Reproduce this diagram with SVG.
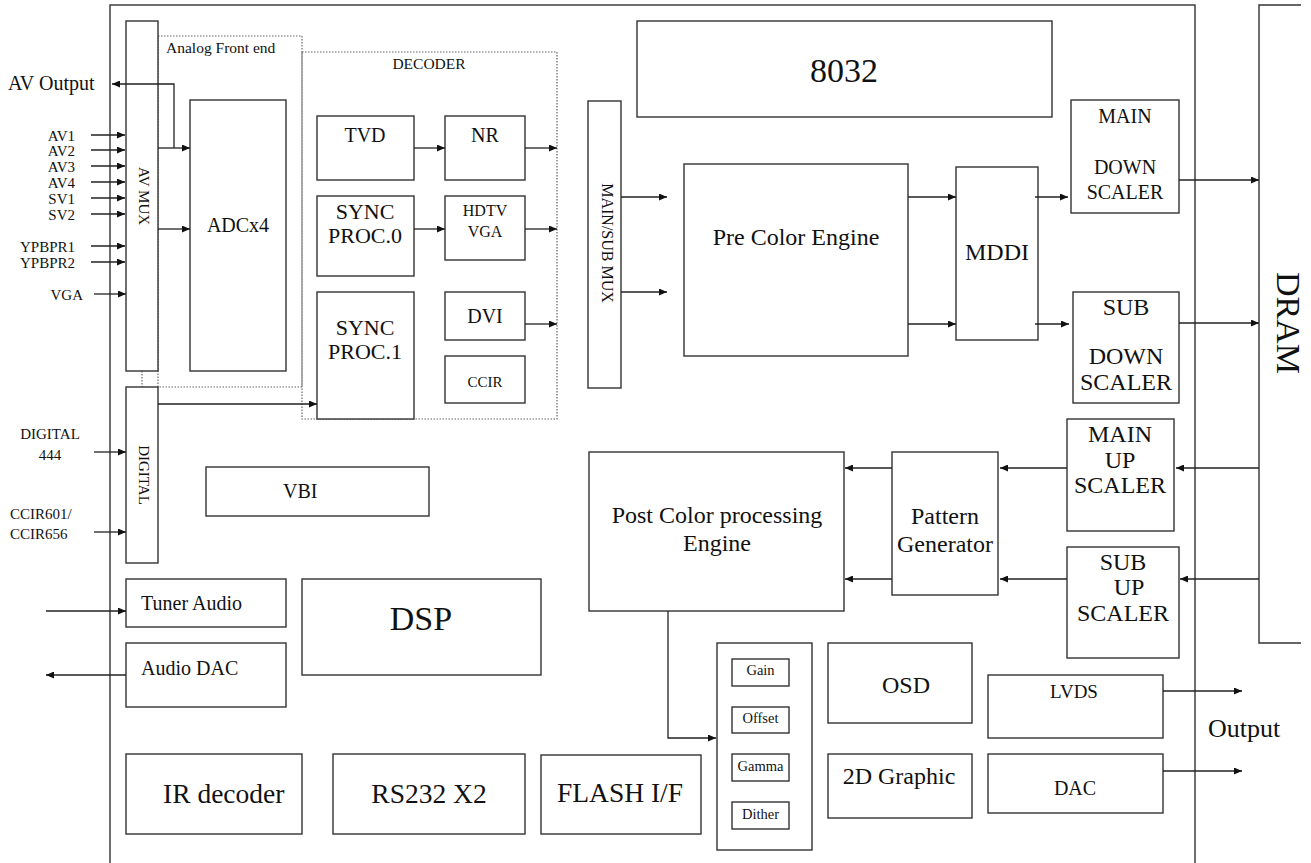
<svg xmlns="http://www.w3.org/2000/svg" width="1311" height="863" viewBox="0 0 1311 863">
<style>
.b{fill:#fff;stroke:#333;stroke-width:1.4}
.o{fill:none;stroke:#333;stroke-width:1.4}
.d{fill:none;stroke:#666;stroke-width:1.2;stroke-dasharray:1.5 1.5}
.c{fill:none;stroke:#222;stroke-width:1.3}
.a{marker-end:url(#ah)}
text{font-family:"Liberation Serif","Times New Roman",serif;fill:#111}
.m{text-anchor:middle}
.e{text-anchor:end}
</style>
<defs>
<marker id="ah" markerWidth="9" markerHeight="7" refX="8" refY="3.5" orient="auto" markerUnits="userSpaceOnUse">
<path d="M0,0 L8,3.5 L0,7 z" fill="#111"/>
</marker>
</defs>
<rect width="1311" height="863" fill="#fff"/>

<g id="chip"><rect class="o" x="110" y="5" width="1085" height="880"/></g>
<g id="dram"><path class="o" d="M1301,5 H1259 V643 H1301"/><text transform="translate(1277,323) rotate(90)" class="m" font-size="34">DRAM</text></g>

<g id="afe"><rect class="d" x="158" y="36" width="144" height="351"/><path class="d" d="M142,371 V387"/><text x="166" y="53" font-size="15.5">Analog Front end</text></g>
<g id="decoder"><rect class="d" x="302" y="52" width="255" height="367"/><text x="429" y="69" class="m" font-size="15.5">DECODER</text></g>

<g id="labels">
<text x="8" y="90" font-size="20">AV Output</text>
<text x="75" y="141" class="e" font-size="15">AV1</text>
<text x="75" y="156" class="e" font-size="15">AV2</text>
<text x="75" y="172" class="e" font-size="15">AV3</text>
<text x="75" y="188" class="e" font-size="15">AV4</text>
<text x="75" y="204" class="e" font-size="15">SV1</text>
<text x="75" y="220" class="e" font-size="15">SV2</text>
<text x="75" y="252" class="e" font-size="15">YPBPR1</text>
<text x="75" y="268" class="e" font-size="15">YPBPR2</text>
<text x="83" y="300" class="e" font-size="15">VGA</text>
<text x="50" y="439" class="m" font-size="15">DIGITAL</text>
<text x="50" y="460" class="m" font-size="15">444</text>
<text x="10" y="519" font-size="15">CCIR601/</text>
<text x="10" y="539" font-size="15">CCIR656</text>
<text x="1208" y="737" font-size="26">Output</text>
</g>

<g id="avmux"><rect class="b" x="126" y="21" width="32" height="350"/><text transform="translate(139,196) rotate(90)" class="m" font-size="15">AV MUX</text></g>
<g id="adc"><rect class="b" x="190" y="100" width="96" height="271"/><text x="238" y="232" class="m" font-size="20">ADCx4</text></g>
<g id="digital"><rect class="b" x="126" y="387" width="32" height="176"/><text transform="translate(139,475) rotate(90)" class="m" font-size="15">DIGITAL</text></g>

<g id="tvd"><rect class="b" x="317" y="116" width="97" height="64"/><text x="365" y="142" class="m" font-size="20">TVD</text></g>
<g id="nr"><rect class="b" x="445" y="116" width="80" height="64"/><text x="485" y="142" class="m" font-size="20">NR</text></g>
<g id="sync0"><rect class="b" x="317" y="196" width="97" height="80"/><text x="365" y="219" class="m" font-size="22">SYNC</text><text x="365" y="243" class="m" font-size="22">PROC.0</text></g>
<g id="hdtv"><rect class="b" x="445" y="196" width="80" height="64"/><text x="485" y="216" class="m" font-size="16">HDTV</text><text x="485" y="237" class="m" font-size="16">VGA</text></g>
<g id="sync1"><rect class="b" x="317" y="292" width="97" height="127"/><text x="365" y="335" class="m" font-size="22">SYNC</text><text x="365" y="359" class="m" font-size="22">PROC.1</text></g>
<g id="dvi"><rect class="b" x="445" y="292" width="80" height="48"/><text x="485" y="323" class="m" font-size="20">DVI</text></g>
<g id="ccir"><rect class="b" x="445" y="356" width="80" height="47"/><text x="485" y="387" class="m" font-size="15">CCIR</text></g>

<g id="mainsubmux"><rect class="b" x="588" y="101" width="33" height="287"/><text transform="translate(602,243) rotate(90)" class="m" font-size="16">MAIN/SUB MUX</text></g>
<g id="cpu8032"><rect class="b" x="637" y="21" width="415" height="96"/><text x="844" y="82" class="m" font-size="34">8032</text></g>
<g id="precolor"><rect class="b" x="684" y="164" width="224" height="192"/><text x="796" y="245" class="m" font-size="24">Pre Color Engine</text></g>
<g id="mddi"><rect class="b" x="956" y="167" width="82" height="173"/><text x="997" y="260" class="m" font-size="24">MDDI</text></g>
<g id="maindown"><rect class="b" x="1071" y="100" width="108" height="113"/><text x="1125" y="123" class="m" font-size="20">MAIN</text><text x="1125" y="174" class="m" font-size="20">DOWN</text><text x="1125" y="199" class="m" font-size="20">SCALER</text></g>
<g id="subdown"><rect class="b" x="1073" y="292" width="106" height="111"/><text x="1126" y="315" class="m" font-size="24">SUB</text><text x="1126" y="364" class="m" font-size="24">DOWN</text><text x="1126" y="390" class="m" font-size="24">SCALER</text></g>
<g id="mainup"><rect class="b" x="1067" y="419" width="107" height="112"/><text x="1120" y="442" class="m" font-size="24">MAIN</text><text x="1120" y="468" class="m" font-size="24">UP</text><text x="1120" y="493" class="m" font-size="24">SCALER</text></g>
<g id="subup"><rect class="b" x="1067" y="547" width="112" height="111"/><text x="1123" y="570" class="m" font-size="24">SUB</text><text x="1129" y="595" class="m" font-size="24">UP</text><text x="1123" y="621" class="m" font-size="24">SCALER</text></g>
<g id="pattern"><rect class="b" x="892" y="452" width="106" height="143"/><text x="945" y="524" class="m" font-size="24">Pattern</text><text x="945" y="552" class="m" font-size="24">Generator</text></g>
<g id="postcolor"><rect class="b" x="589" y="452" width="255" height="159"/><text x="717" y="523" class="m" font-size="24">Post Color processing</text><text x="717" y="551" class="m" font-size="24">Engine</text></g>

<g id="gaingroup"><rect class="b" x="717" y="643" width="95" height="207"/></g>
<g id="gain"><rect class="b" x="732" y="659" width="57" height="27"/><text x="760.5" y="675" class="m" font-size="14.5">Gain</text></g>
<g id="offset"><rect class="b" x="732" y="707" width="57" height="26"/><text x="760.5" y="723" class="m" font-size="14.5">Offset</text></g>
<g id="gamma"><rect class="b" x="732" y="754" width="57" height="27"/><text x="760.5" y="771" class="m" font-size="14.5">Gamma</text></g>
<g id="dither"><rect class="b" x="732" y="802" width="57" height="27"/><text x="760.5" y="819" class="m" font-size="14.5">Dither</text></g>

<g id="osd"><rect class="b" x="828" y="643" width="144" height="80"/><text x="906" y="693" class="m" font-size="24">OSD</text></g>
<g id="graphic2d"><rect class="b" x="828" y="754" width="144" height="64"/><text x="899" y="784" class="m" font-size="24">2D Graphic</text></g>
<g id="lvds"><rect class="b" x="988" y="675" width="175" height="63"/><text x="1074" y="698" class="m" font-size="19">LVDS</text></g>
<g id="dac"><rect class="b" x="988" y="754" width="175" height="59"/><text x="1075" y="795" class="m" font-size="20">DAC</text></g>

<g id="vbi"><rect class="b" x="206" y="467" width="223" height="49"/><text x="283" y="498" font-size="20">VBI</text></g>
<g id="tuneraudio"><rect class="b" x="126" y="579" width="160" height="48"/><text x="141" y="610" font-size="20">Tuner Audio</text></g>
<g id="audiodac"><rect class="b" x="126" y="643" width="160" height="64"/><text x="141" y="675" font-size="20">Audio DAC</text></g>
<g id="dsp"><rect class="b" x="302" y="579" width="239" height="96"/><text x="421" y="630" class="m" font-size="34">DSP</text></g>
<g id="irdecoder"><rect class="b" x="126" y="754" width="176" height="80"/><text x="163" y="803" font-size="27.5">IR decoder</text></g>
<g id="rs232"><rect class="b" x="333" y="754" width="192" height="80"/><text x="429" y="803" class="m" font-size="27.5">RS232 X2</text></g>
<g id="flash"><rect class="b" x="541" y="755" width="160" height="79"/><text x="620" y="802" class="m" font-size="27.5">FLASH I/F</text></g>

<g id="connectors">
<path class="c a" d="M91,135 H125"/>
<path class="c a" d="M91,150 H125"/>
<path class="c a" d="M91,166 H125"/>
<path class="c a" d="M91,182 H125"/>
<path class="c a" d="M91,198 H125"/>
<path class="c a" d="M91,214 H125"/>
<path class="c a" d="M91,246 H125"/>
<path class="c a" d="M91,262 H125"/>
<path class="c a" d="M94,294 H126"/>
<path class="c a" d="M94,452 H126"/>
<path class="c a" d="M94,532 H126"/>
<path class="c a" d="M158,148 H190"/>
<path class="c a" d="M174,148 V84 H112"/>
<path class="c a" d="M158,229 H190"/>
<path class="c a" d="M158,404 H317"/>
<path class="c a" d="M414,148 H445"/>
<path class="c a" d="M525,148 H557"/>
<path class="c a" d="M414,229 H445"/>
<path class="c a" d="M525,229 H557"/>
<path class="c a" d="M525,324 H557"/>
<path class="c a" d="M621,197 H667"/>
<path class="c a" d="M621,292 H667"/>
<path class="c a" d="M908,197 H956"/>
<path class="c a" d="M908,324 H956"/>
<path class="c a" d="M1035,197 H1068"/>
<path class="c a" d="M1035,324 H1069"/>
<path class="c a" d="M1179,180 H1259"/>
<path class="c a" d="M1179,323 H1259"/>
<path class="c a" d="M1259,468 H1176"/>
<path class="c a" d="M1259,579 H1180"/>
<path class="c a" d="M1067,468 H1000"/>
<path class="c a" d="M1067,579 H1000"/>
<path class="c a" d="M892,468 H845"/>
<path class="c a" d="M892,579 H845"/>
<path class="c a" d="M668,611 V738 H716"/>
<path class="c a" d="M1163,691 H1242"/>
<path class="c a" d="M1163,771 H1242"/>
<path class="c a" d="M46,611 H126"/>
<path class="c a" d="M126,675 H46"/>
</g>
</svg>
